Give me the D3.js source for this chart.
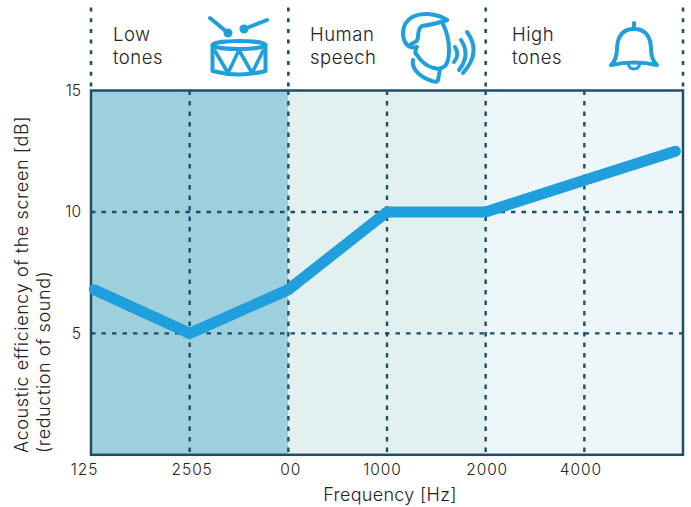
<!DOCTYPE html>
<html>
<head>
<meta charset="utf-8">
<script src="https://cdn.jsdelivr.net/npm/d3@7"></script>
<style>
  body { margin: 0; background: #fff; }
  text { font-family: Inter, "Open Sans", sans-serif; font-weight: 300; fill: #222; }
</style>
</head>
<body>
<svg id="chart" width="691" height="507"></svg>
<script>
// ticks
const freqTicks = [125, 250, 500, 1000, 2000, 4000, 8000];
const freqLabels = ['125', '2505', '00', '1000', '2000', '4000', ''];
const dbTicks = [5, 10, 15];

// curve
const curveFreq = [128, 250, 500, 1000, 2000, 4000, 7580];
const curveDb = [6.8, 5, 6.8, 10, 10, 11.3, 12.5];

// shaded zones
const zoneStart = [125, 500, 1000, 2000, 4000];
const zoneEnd = [500, 1000, 2000, 4000, 8000];
const zoneColors = ['#9dd0dc', '#e3f0f0', '#e3f0f0', '#edf7fa', '#edf7fa'];

const zoneEdges = [125, 500, 2000, 8000];
const zoneTitles = [['Low', 'tones'], ['Human', 'speech'], ['High', 'tones']];

const margin = { top: 90.5, right: 8, bottom: 52.2, left: 91 };
const width = 691, height = 507;
const innerWidth = width - margin.left - margin.right;
const innerHeight = height - margin.top - margin.bottom;
const dark = '#1f4e6b', blue = '#1f9fdc';

const svg = d3.select('#chart');
const g = svg.append('g').attr('transform', `translate(${margin.left},${margin.top})`);

const x = d3.scaleLog().base(2).domain([125, 8000]).range([0, innerWidth]);
const y = d3.scaleLinear().domain([0, 15]).range([innerHeight, 0]);

g.selectAll('rect.zone')
  .data(zoneStart)
  .enter().append('rect')
    .attr('class', 'zone')
    .attr('x', d => x(d))
    .attr('y', 0)
    .attr('width', (d, i) => x(zoneEnd[i]) - x(d))
    .attr('height', innerHeight)
    .attr('fill', (d, i) => zoneColors[i]);

// grid
g.selectAll('line.vgrid')
  .data(freqTicks.slice(1, -1))
  .enter().append('line')
    .attr('class', 'vgrid')
    .attr('x1', d => x(d)).attr('x2', d => x(d))
    .attr('y1', 0).attr('y2', innerHeight)
    .attr('stroke', dark).attr('stroke-width', 2.4).attr('stroke-dasharray', '4.5 6');

g.selectAll('line.hgrid')
  .data(dbTicks.slice(0, -1))
  .enter().append('line')
    .attr('class', 'hgrid')
    .attr('x1', 0).attr('x2', innerWidth)
    .attr('y1', d => y(d)).attr('y2', d => y(d))
    .attr('stroke', dark).attr('stroke-width', 2.4).attr('stroke-dasharray', '4.5 6');

// dotted zone borders above the plot
g.selectAll('line.top')
  .data(zoneEdges)
  .enter().append('line')
    .attr('class', 'top')
    .attr('x1', d => x(d)).attr('x2', d => x(d))
    .attr('y1', -83).attr('y2', -2)
    .attr('stroke', dark).attr('stroke-width', 2.6).attr('stroke-dasharray', '4 6.7');

g.append('rect')
  .attr('width', innerWidth).attr('height', innerHeight)
  .attr('fill', 'none').attr('stroke', dark).attr('stroke-width', 2.5);

const line = d3.line().x(d => x(d[0])).y(d => y(d[1]));
g.append('path')
  .datum(curveFreq.map((f, i) => [f, curveDb[i]]))
  .attr('d', line)
  .attr('fill', 'none').attr('stroke', blue).attr('stroke-width', 11)
  .attr('stroke-linecap', 'round').attr('stroke-linejoin', 'miter');

// axes
const xAxis = d3.axisBottom(x).tickValues(freqTicks).tickSize(0).tickPadding(9)
  .tickFormat((d, i) => freqLabels[i]);
const xAxisG = g.append('g').attr('transform', `translate(0,${innerHeight})`).call(xAxis);
xAxisG.select('.domain').remove();
xAxisG.selectAll('text').attr('font-size', 15.5).attr('letter-spacing', 0.9).attr('fill', '#222')
  .attr('dx', (d, i) => [-7, 2, 2, -5, 1, -4, 0][i]);

const yAxis = d3.axisLeft(y).tickValues(dbTicks).tickSize(0).tickPadding(10);
const yAxisG = g.append('g').call(yAxis);
yAxisG.select('.domain').remove();
yAxisG.selectAll('text').attr('font-size', 15.5).attr('fill', '#222');

svg.append('text')
  .attr('x', 390).attr('y', 501).attr('text-anchor', 'middle')
  .attr('font-size', 18).attr('letter-spacing', 0.3).text('Frequency [Hz]');

const yTitle = svg.append('text')
  .attr('transform', 'translate(28,453) rotate(-90)')
  .attr('font-size', 18).attr('letter-spacing', 0.6);
yTitle.append('tspan').attr('x', 0).attr('y', 0).text('Acoustic efficiency of the screen [dB]');
yTitle.append('tspan').attr('x', 0).attr('y', 22).text('(reduction of sound)');

// zone titles
[113, 310, 512].forEach((left, i) => {
  const t = svg.append('text').attr('font-size', 18.5).attr('letter-spacing', 0.5);
  t.append('tspan').attr('x', left).attr('y', 41).text(zoneTitles[i][0]);
  t.append('tspan').attr('x', left).attr('y', 64).text(zoneTitles[i][1]);
});

// icons
const icon = svg.append('g')
  .attr('fill', 'none').attr('stroke', blue).attr('stroke-width', 4)
  .attr('stroke-linecap', 'round').attr('stroke-linejoin', 'round');

// drum
icon.append('path').attr('d', 'M210 18L228 33M267 20L244 29');
icon.append('circle').attr('cx', 228).attr('cy', 33).attr('r', 2.5);
icon.append('circle').attr('cx', 244).attr('cy', 29).attr('r', 2.5);
icon.append('ellipse').attr('cx', 239).attr('cy', 45).attr('rx', 26.5).attr('ry', 4);
icon.append('path').attr('d', 'M212.500 45V71Q239 78 265.500 71V45');
icon.append('path').attr('d', 'M215 51L228 73L239 50L252 73L263 51').attr('stroke-width', 3.6);

// head and sound waves
icon.append('path').attr('d', 'M447 20Q440 15 428 14Q412 13 405 24Q401 34 405 42Q407 46 411 47');
icon.append('path').attr('d', 'M447 20Q436 24 422 26Q418 28 418 38Q417 42 413 43Q409 45 411 47Q414 48 417 47');
icon.append('path').attr('d', 'M443 24Q449 36 449 50Q449 62 445 66Q440 70 434 68Q424 66 417 55Q414 53 416 50');
icon.append('path').attr('d', 'M413 60Q412 66 416 71Q422 78 432 81Q437 83 438 80L440 69');
icon.append('path').attr('d', 'M455 47Q460 55 454 62M461 40Q471 55 459 70M467 32Q482 52 463 73');

// bell
icon.append('path').attr('d', 'M634 23V29M611 65Q617 60 617 48Q618 29 634 29Q650 29 651 48Q651 60 657 65Q634 60 611 65Z');
icon.append('path').attr('d', 'M628 63Q629 69 634 69Q639 69 640 63').attr('stroke-width', 3);
</script>
</body>
</html>
